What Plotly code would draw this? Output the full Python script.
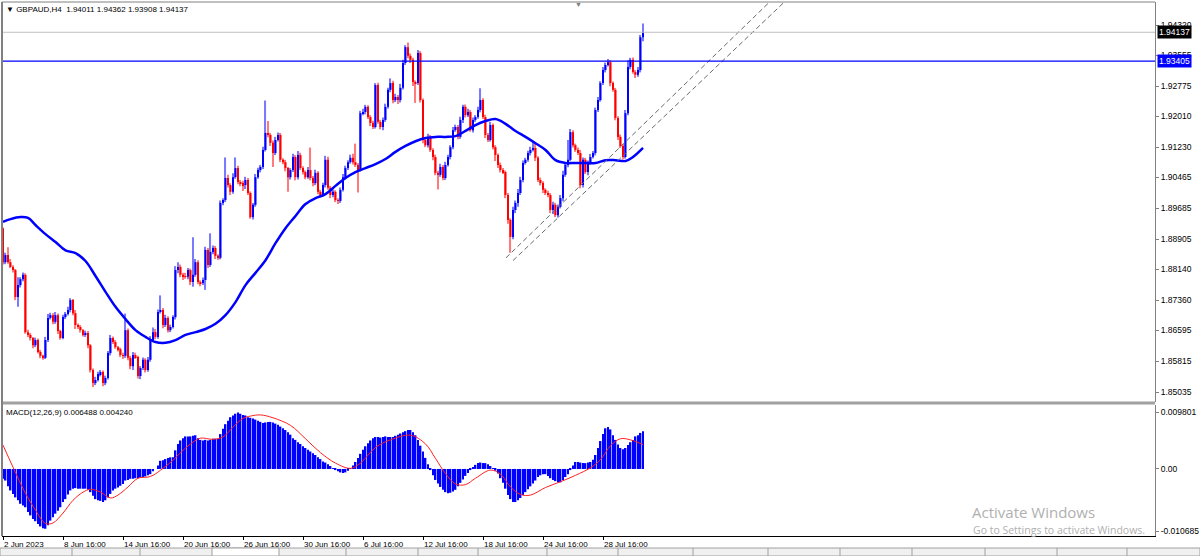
import plotly.graph_objects as go

# ---------------- data ----------------
first_open = 1.8918
closes = [
 1.8832, 1.8850, 1.8832, 1.8820, 1.8812, 1.8744, 1.8774, 1.8789, 1.8800, 1.8655,
 1.8648, 1.8640, 1.8622, 1.8635, 1.8605, 1.8595, 1.8590, 1.8635, 1.8691, 1.8698,
 1.8681, 1.8698, 1.8658, 1.8640, 1.8693, 1.8701, 1.8711, 1.8736, 1.8703, 1.8673,
 1.8668, 1.8660, 1.8648, 1.8653, 1.8622, 1.8559, 1.8526, 1.8534, 1.8549, 1.8554,
 1.8526, 1.8539, 1.8602, 1.8640, 1.8630, 1.8617, 1.8612, 1.8597, 1.8595, 1.8660,
 1.8590, 1.8569, 1.8597, 1.8592, 1.8544, 1.8564, 1.8585, 1.8559, 1.8585, 1.8635,
 1.8655, 1.8643, 1.8706, 1.8711, 1.8673, 1.8691, 1.8660, 1.8668, 1.8693, 1.8812,
 1.8820, 1.8800, 1.8797, 1.8795, 1.8812, 1.8782, 1.8800, 1.8832, 1.8782, 1.8779,
 1.8787, 1.8863, 1.8825, 1.8858, 1.8868, 1.8848, 1.8843, 1.8982, 1.8989, 1.9045,
 1.9027, 1.9010, 1.9047, 1.9070, 1.9035, 1.9032, 1.9027, 1.9040, 1.9007, 1.8946,
 1.8977, 1.9047, 1.9065, 1.9073, 1.9116, 1.9159, 1.9154, 1.9134, 1.9108, 1.9141,
 1.9154, 1.9091, 1.9085, 1.9070, 1.9047, 1.9065, 1.9098, 1.9047, 1.9103, 1.9070,
 1.9060, 1.9047, 1.9065, 1.9045, 1.9032, 1.9058, 1.9010, 1.9002, 1.9027, 1.9091,
 1.9020, 1.9002, 1.9010, 1.8989, 1.8987, 1.9015, 1.9047, 1.9070, 1.9085, 1.9096,
 1.9085, 1.9078, 1.9065, 1.9209, 1.9212, 1.9225, 1.9199, 1.9184, 1.9174, 1.9280,
 1.9187, 1.9174, 1.9192, 1.9225, 1.9268, 1.9285, 1.9242, 1.9250, 1.9242, 1.9273,
 1.9336, 1.9376, 1.9354, 1.9344, 1.9288, 1.9285, 1.9361, 1.9242, 1.9141, 1.9128,
 1.9149, 1.9116, 1.9098, 1.9058, 1.9053, 1.9073, 1.9045, 1.9078, 1.9098, 1.9123,
 1.9166, 1.9174, 1.9149, 1.9192, 1.9225, 1.9204, 1.9212, 1.9166, 1.9192, 1.9199,
 1.9217, 1.9242, 1.9199, 1.9154, 1.9141, 1.9179, 1.9123, 1.9103, 1.9078, 1.9065,
 1.9060, 1.9002, 1.8939, 1.8896, 1.8964, 1.8982, 1.9007, 1.9040, 1.9083, 1.9091,
 1.9108, 1.9116, 1.9121, 1.9096, 1.9040, 1.9032, 1.9015, 1.9007, 1.9002, 1.8964,
 1.8977, 1.8951, 1.8972, 1.8994, 1.9053, 1.9078, 1.9091, 1.9161, 1.9128, 1.9116,
 1.9108, 1.9027, 1.9091, 1.9060, 1.9083, 1.9098, 1.9108, 1.9217, 1.9242, 1.9285,
 1.9318, 1.9331, 1.9338, 1.9285, 1.9268, 1.9197, 1.9149, 1.9126, 1.9098, 1.9209,
 1.9326, 1.9344, 1.9313, 1.9306, 1.9318, 1.9401, 1.94137,
]
# wick lengths in pips (0.0001) above the body and below the body
upper_wick_pips = [
 2, 6, 20, 8, 4, 3, 20, 5, 6, 4,
 6, 5, 3, 6, 4, 5, 3, 8, 10, 6,
 5, 8, 4, 3, 6, 5, 8, 5, 3, 8,
 4, 5, 3, 6, 5, 3, 4, 8, 6, 5,
 4, 6, 5, 8, 4, 5, 3, 4, 6, 42,
 4, 5, 8, 6, 3, 5, 6, 4, 7, 10,
 12, 8, 6, 37, 5, 8, 4, 6, 5, 10,
 12, 6, 5, 8, 5, 4, 95, 8, 5, 4,
 6, 8, 5, 47, 6, 5, 4, 6, 5, 52,
 8, 5, 10, 27, 6, 5, 6, 8, 5, 4,
 5, 8, 6, 5, 8, 82, 30, 5, 6, 8,
 6, 5, 4, 6, 3, 5, 8, 5, 10, 6,
 5, 4, 8, 57, 5, 8, 4, 5, 6, 10,
 8, 5, 6, 4, 5, 6, 8, 6, 5, 8,
 10, 47, 5, 6, 8, 5, 4, 5, 6, 5,
 6, 5, 6, 8, 5, 12, 6, 8, 5, 10,
 8, 5, 12, 6, 5, 4, 8, 5, 4, 5,
 8, 5, 4, 6, 5, 8, 5, 8, 6, 5,
 8, 6, 5, 8, 5, 6, 8, 5, 6, 5,
 8, 30, 5, 6, 5, 8, 4, 5, 4, 6,
 5, 4, 5, 4, 8, 6, 10, 8, 6, 5,
 6, 8, 15, 10, 4, 6, 5, 4, 6, 5,
 8, 5, 6, 8, 10, 6, 50, 8, 5, 4,
 6, 8, 6, 5, 6, 8, 5, 6, 8, 5,
 8, 6, 8, 5, 4, 5, 4, 6, 5, 8,
 17, 5, 6, 5, 8, 6, 22,
]
lower_wick_pips = [
 6, 5, 4, 3, 6, 8, 25, 6, 5, 4,
 5, 6, 8, 5, 4, 6, 5, 3, 5, 4,
 6, 5, 8, 4, 3, 5, 4, 6, 5, 10,
 5, 6, 4, 5, 8, 6, 10, 5, 4, 6,
 8, 5, 4, 6, 5, 4, 6, 5, 8, 5,
 6, 8, 10, 5, 6, 8, 5, 6, 4, 5,
 4, 6, 5, 4, 8, 5, 6, 5, 4, 6,
 8, 6, 10, 5, 6, 8, 12, 5, 6, 8,
 5, 25, 8, 5, 6, 8, 5, 4, 6, 5,
 6, 8, 5, 4, 6, 8, 15, 10, 5, 4,
 6, 5, 4, 6, 5, 4, 6, 8, 35, 5,
 4, 6, 5, 8, 37, 6, 5, 8, 6, 5,
 6, 5, 4, 6, 8, 5, 6, 5, 4, 6,
 5, 8, 6, 5, 8, 5, 4, 6, 5, 4,
 6, 5, 57, 4, 5, 6, 5, 8, 5, 4,
 5, 6, 8, 5, 4, 6, 8, 5, 10, 6,
 4, 5, 6, 8, 10, 50, 5, 6, 8, 5,
 6, 5, 8, 6, 37, 5, 6, 5, 4, 6,
 5, 4, 6, 5, 8, 6, 5, 4, 6, 5,
 4, 6, 5, 8, 5, 4, 6, 15, 8, 6,
 5, 8, 10, 40, 6, 8, 10, 5, 6, 4,
 5, 6, 4, 8, 5, 6, 8, 5, 6, 8,
 10, 5, 6, 4, 8, 5, 6, 4, 6, 5,
 5, 8, 6, 5, 8, 5, 4, 6, 5, 4,
 5, 6, 4, 8, 5, 6, 8, 5, 6, 4,
 5, 6, 4, 8, 5, 6, 10,
]
# moving average (blue line), sampled bar index / value
ma_idx = [0, 3, 7, 10, 13, 17, 21, 25, 29, 33, 37, 41, 45, 49, 53, 57, 61, 65, 69, 73,
          77, 81, 85, 89, 93, 97, 101, 105, 109, 113, 117, 121, 125, 129, 133, 137, 141,
          145, 149, 153, 157, 161, 165, 169, 173, 177, 181, 185, 189, 193, 197, 201, 205,
          209, 213, 217, 221, 225, 229, 233, 237, 241, 245, 249, 252, 256]
ma_val = [1.8934, 1.8941, 1.8946, 1.8944, 1.8926, 1.8903, 1.8883, 1.8862, 1.8855, 1.8835,
          1.8797, 1.8757, 1.8719, 1.8688, 1.8660, 1.8643, 1.8630, 1.8628, 1.8635, 1.8648,
          1.8655, 1.8663, 1.8676, 1.8698, 1.8731, 1.8774, 1.8805, 1.8837, 1.8880, 1.8918,
          1.8949, 1.8979, 1.8994, 1.9004, 1.9025, 1.9045, 1.9060, 1.9070, 1.9080, 1.9093,
          1.9111, 1.9126, 1.9138, 1.9146, 1.9149, 1.9149, 1.9151, 1.9164, 1.9179, 1.9189,
          1.9194, 1.9182, 1.9164, 1.9149, 1.9133, 1.9116, 1.9090, 1.9083, 1.9083, 1.9083,
          1.9083, 1.9090, 1.9090, 1.9088, 1.9098, 1.9121]
# MACD main values (histogram), one per bar
macd_hist = [
 -0.0017, -0.0020, -0.0030, -0.0037, -0.0043, -0.0049, -0.0054, -0.0060, -0.0063, -0.0066,
 -0.0074, -0.0080, -0.0086, -0.0090, -0.0095, -0.0099, -0.0102, -0.0103, -0.0097, -0.0089,
 -0.0083, -0.0077, -0.0072, -0.0066, -0.0057, -0.0052, -0.0044, -0.0037, -0.0034, -0.0033,
 -0.0034, -0.0034, -0.0034, -0.0034, -0.0036, -0.0040, -0.0046, -0.0052, -0.0054, -0.0055,
 -0.0057, -0.0054, -0.0049, -0.0043, -0.0037, -0.0034, -0.0032, -0.0029, -0.0026, -0.0020,
 -0.0019, -0.0017, -0.0017, -0.0016, -0.0016, -0.0015, -0.0014, -0.0013, -0.0011, -0.0009,
 -0.0004, 0.0000, 0.0006, 0.0014, 0.0015, 0.0017, 0.0019, 0.0020, 0.0020, 0.0032,
 0.0043, 0.0049, 0.0053, 0.0056, 0.0056, 0.0056, 0.0057, 0.0058, 0.0053, 0.0050,
 0.0049, 0.0050, 0.0049, 0.0050, 0.0052, 0.0052, 0.0052, 0.0060, 0.0069, 0.0077,
 0.0083, 0.0089, 0.0092, 0.0095, 0.0097, 0.0095, 0.0093, 0.0092, 0.0089,
 0.0088, 0.0087, 0.0085, 0.0083, 0.0081, 0.0079, 0.0080, 0.0081, 0.0081, 0.0080, 0.0078,
 0.0076, 0.0073, 0.0070, 0.0067, 0.0063, 0.0059, 0.0053, 0.0050, 0.0046, 0.0043,
 0.0039, 0.0036, 0.0033, 0.0030, 0.0027, 0.0024, 0.0020, 0.0017, 0.0013, 0.0011,
 0.0008, 0.0005, 0.0001, -0.0002, -0.0004, -0.0006, -0.0007, -0.0006, -0.0003, 0.0001,
 0.0006, 0.0012, 0.0019, 0.0026, 0.0033, 0.0039, 0.0044, 0.0049, 0.0053, 0.0055,
 0.0055, 0.0054, 0.0055, 0.0056, 0.0055, 0.0055, 0.0055, 0.0057, 0.0059, 0.0061,
 0.0063, 0.0065, 0.0067, 0.0067, 0.0063, 0.0058, 0.0050, 0.0040, 0.0030, 0.0019,
 0.0008, -0.0002, -0.0011, -0.0019, -0.0025, -0.0031, -0.0036, -0.0040, -0.0042, -0.0041,
 -0.0039, -0.0036, -0.0030, -0.0024, -0.0018, -0.0012, -0.0007, -0.0002, 0.0003, 0.0007,
 0.0010, 0.0011, 0.0010, 0.0010, 0.0008, 0.0005, 0.0001, -0.0003, -0.0008, -0.0016,
 -0.0024, -0.0034, -0.0045, -0.0052, -0.0057, -0.0057, -0.0054, -0.0050, -0.0045, -0.0040,
 -0.0035, -0.0030, -0.0025, -0.0020, -0.0014, -0.0011, -0.0009, -0.0009, -0.0012, -0.0016,
 -0.0019, -0.0021, -0.0023, -0.0023, -0.0019, -0.0014, -0.0009, -0.0002, 0.0006, 0.0012,
 0.0012, 0.0011, 0.0010, 0.0010, 0.0011, 0.0012, 0.0016, 0.0024, 0.0036, 0.0048,
 0.0060, 0.0070, 0.0072, 0.0068, 0.0058, 0.0050, 0.0042, 0.0036, 0.0034, 0.0036,
 0.0041, 0.0046, 0.0050, 0.0056, 0.0058, 0.0062, 0.006488,
]
signal_idx = [0, 4, 9, 13, 17, 20, 24, 28, 32, 35, 39, 43, 46, 50, 54, 58, 60, 64, 68, 72,
              76, 79, 84, 88, 92, 96, 99, 103, 108, 115, 121, 127, 133, 139, 143, 149, 155,
              163, 169, 173, 177, 181, 185, 189, 195, 199, 203, 207, 211, 217, 223, 229,
              235, 239, 243, 247, 251, 256]
signal_val = [0.0041, 0.0003, -0.0042, -0.0071, -0.0094, -0.0093, -0.0076, -0.0054, -0.0040,
              -0.0035, -0.0040, -0.0050, -0.0045, -0.0031, -0.0016, -0.0014, -0.0011, 0.0001,
              0.0015, 0.0032, 0.0046, 0.0053, 0.0051, 0.0055, 0.0072, 0.0087, 0.0091, 0.0093,
              0.0088, 0.0075, 0.0052, 0.0028, 0.0010, 0.0001, 0.0010, 0.0037, 0.0050, 0.0058,
              0.0043, 0.0018, -0.0008, -0.0026, -0.0027, -0.0016, -0.0002, -0.0009, -0.0031,
              -0.0044, -0.0045, -0.0032, -0.0022, -0.0011, 0.0002, 0.0016, 0.0040, 0.0052,
              0.0050, 0.0042]
price_ticks = [1.94320, 1.93555, 1.92775, 1.92010, 1.91230, 1.90465, 1.89685,
               1.88905, 1.88140, 1.87360, 1.86595, 1.85815, 1.85035]
macd_ticks = [0.009801, 0.0, -0.010685]
macd_tick_text = ["0.009801", "0.00", "-0.010685"]
time_tick_idx = [0, 24, 48, 72, 96, 120, 144, 168, 192, 216, 240]
time_tick_text = ["2 Jun 2023", "8 Jun 16:00", "14 Jun 16:00", "20 Jun 16:00", "26 Jun 16:00",
                  "30 Jun 16:00", "6 Jul 16:00", "12 Jul 16:00", "18 Jul 16:00",
                  "24 Jul 16:00", "28 Jul 16:00"]
level_price = 1.93405
bid_price = 1.94137
channel_a_idx = [201.2, 310.0]
channel_a_val = [1.8843, 1.9511]
channel_b_idx = [204.0, 315.0]
channel_b_val = [1.8836, 1.9505]

# ---------------- derived OHLC ----------------
pip = 0.0001
opens = [first_open] + closes[:-1]
idx, body_base, body_h, body_col, wick_base, wick_h, wick_col = [], [], [], [], [], [], []
for i, (o, c, uw, lw) in enumerate(zip(opens, closes, upper_wick_pips, lower_wick_pips)):
    top, bot = max(o, c), min(o, c)
    hi, lo = top + uw * pip, bot - lw * pip
    bull = c >= o
    idx.append(i)
    body_base.append(bot)
    body_h.append(max(top - bot, 0.00004))
    body_col.append("#0000ff" if bull else "#ff0000")
    wick_base.append(lo)
    wick_h.append(hi - lo)
    wick_col.append("#7a7aff" if bull else "#ff7a7a")

FONT = "Liberation Sans"
fig = go.Figure()
fig.add_trace(go.Bar(x=idx, y=wick_h, base=wick_base, width=0.45,
                     marker=dict(color=wick_col, line=dict(width=0)), hoverinfo="skip"))
fig.add_trace(go.Bar(x=idx, y=body_h, base=body_base, width=0.8,
                     marker=dict(color=body_col, line=dict(width=0)), hoverinfo="skip"))
fig.add_trace(go.Scatter(x=ma_idx, y=ma_val, mode="lines", line=dict(color="#0000ff", width=2.5, shape="spline"),
                         hoverinfo="skip"))
for cx, cy in ((channel_a_idx, channel_a_val), (channel_b_idx, channel_b_val)):
    fig.add_trace(go.Scatter(x=cx, y=cy, mode="lines",
                             line=dict(color="#6a6a6a", width=1, dash="5px,3px"), hoverinfo="skip"))
fig.add_trace(go.Bar(x=list(range(len(macd_hist))), y=macd_hist, width=0.7, yaxis="y2",
                     marker=dict(color="#0000ff", line=dict(width=0)), hoverinfo="skip"))
fig.add_trace(go.Scatter(x=signal_idx, y=signal_val, yaxis="y2", mode="lines",
                         line=dict(color="#ff2020", width=1, shape="spline"), hoverinfo="skip"))

H_TOP, H_BOT = 2, 536  # plot area pixel rows
def py(pix):
    return (H_BOT - pix) / (H_BOT - H_TOP)
def px(pix):
    return (pix - 2) / 1153.0

shapes = [
    dict(type="line", xref="paper", x0=0, x1=1, yref="y", y0=bid_price, y1=bid_price,
         line=dict(color="#c0c0c0", width=1)),
    dict(type="line", xref="paper", x0=0, x1=1, yref="y", y0=level_price, y1=level_price,
         line=dict(color="#0000ff", width=1.3)),
    dict(type="rect", xref="paper", x0=0, x1=1, yref="paper", y0=py(404.5), y1=py(401.5),
         fillcolor="#a0a0a0", line=dict(width=0)),
    dict(type="line", xref="paper", x0=0, x1=0, yref="paper", y0=0, y1=1,
         line=dict(color="#808080", width=2)),
    dict(type="line", xref="paper", x0=0, x1=1, yref="paper", y0=1, y1=1,
         line=dict(color="#808080", width=1)),
    # tab strip at the bottom of the window
    dict(type="rect", xref="paper", x0=px(0), x1=px(1200), yref="paper", y0=py(556), y1=py(548),
         fillcolor="#f0f0f0", line=dict(color="#a0a0a0", width=1)),
    dict(type="rect", xref="paper", x0=px(212), x1=px(279), yref="paper", y0=py(556), y1=py(548),
         fillcolor="#ffffff", line=dict(color="#a0a0a0", width=1)),
]
for sx in [72, 140, 346, 418, 478, 547, 618, 693, 768, 840, 912, 985, 1057, 1127]:
    shapes.append(dict(type="line", xref="paper", x0=px(sx), x1=px(sx), yref="paper",
                       y0=py(556), y1=py(548), line=dict(color="#a0a0a0", width=1)))

annotations = [
    dict(xref="paper", yref="paper", x=px(4), y=py(9), xanchor="left", yanchor="middle",
         text="\u25bc GBPAUD,H4  1.94011 1.94362 1.93908 1.94137", showarrow=False,
         font=dict(family=FONT, size=8, color="#000000")),
    dict(xref="paper", yref="paper", x=px(4), y=py(412), xanchor="left", yanchor="middle",
         text="MACD(12,26,9) 0.006488 0.004240", showarrow=False,
         font=dict(family=FONT, size=8, color="#000000")),
    dict(xref="paper", yref="y", x=1, y=bid_price, xanchor="left", yanchor="middle", xshift=2,
         text="1.94137", showarrow=False, bgcolor="#000000", borderpad=1,
         font=dict(family=FONT, size=8.5, color="#ffffff")),
    dict(xref="paper", yref="y", x=1, y=level_price, xanchor="left", yanchor="middle", xshift=2,
         text="1.93405", showarrow=False, bgcolor="#0000ff", borderpad=1,
         font=dict(family=FONT, size=8.5, color="#ffffff")),
    dict(xref="paper", yref="paper", x=px(578), y=py(4), xanchor="center", yanchor="middle",
         text="\u25bc", showarrow=False, font=dict(family=FONT, size=7, color="#808080")),
    dict(xref="paper", yref="paper", x=px(970), y=py(512), xanchor="left", yanchor="middle",
         text="Activate Windows", showarrow=False,
         font=dict(family="Open Sans", size=15, color="#b0b0b0")),
    dict(xref="paper", yref="paper", x=px(971), y=py(530), xanchor="left", yanchor="middle",
         text="Go to Settings to activate Windows.", showarrow=False,
         font=dict(family="Open Sans", size=10.5, color="#b0b0b0")),
]

fig.update_layout(
    template="none",
    width=1200, height=556,
    margin=dict(l=2, r=45, t=H_TOP, b=556 - H_BOT, pad=0),
    paper_bgcolor="#ffffff", plot_bgcolor="#ffffff",
    showlegend=False, barmode="overlay",
    font=dict(family=FONT, size=8, color="#000000"),
    xaxis=dict(domain=[0, 1], anchor="y2", range=[-0.4, 460.8], showgrid=False, zeroline=False,
               tickmode="array", tickvals=time_tick_idx, ticktext=time_tick_text,
               ticks="outside", ticklen=3, tickcolor="#000000", showline=True,
               linecolor="#000000", linewidth=1, ticklabelposition="outside right",
               tickfont=dict(family=FONT, size=8, color="#000000"), automargin=False),
    yaxis=dict(domain=[py(402), 1], anchor="x", side="right",
               range=[1.847824, 1.949024], showgrid=False, zeroline=False,
               tickmode="array", tickvals=price_ticks, ticktext=[f"{v:.5f}" for v in price_ticks],
               ticks="outside", ticklen=3, tickcolor="#808080", showline=True,
               linecolor="#808080", linewidth=1,
               tickfont=dict(family=FONT, size=8.5, color="#000000"), automargin=False),
    yaxis2=dict(domain=[0, py(405)], anchor="x", side="right",
                range=[-0.011546, 0.011006], showgrid=False, zeroline=False,
                tickmode="array", tickvals=macd_ticks, ticktext=macd_tick_text,
                ticks="outside", ticklen=3, tickcolor="#808080", showline=True,
                linecolor="#808080", linewidth=1,
                tickfont=dict(family=FONT, size=8.5, color="#000000"), automargin=False),
    shapes=shapes,
    annotations=annotations,
)

fig.write_html("out.html", config={"displayModeBar": False},
               post_script="document.body.style.margin='0';document.body.style.overflow='hidden';")
